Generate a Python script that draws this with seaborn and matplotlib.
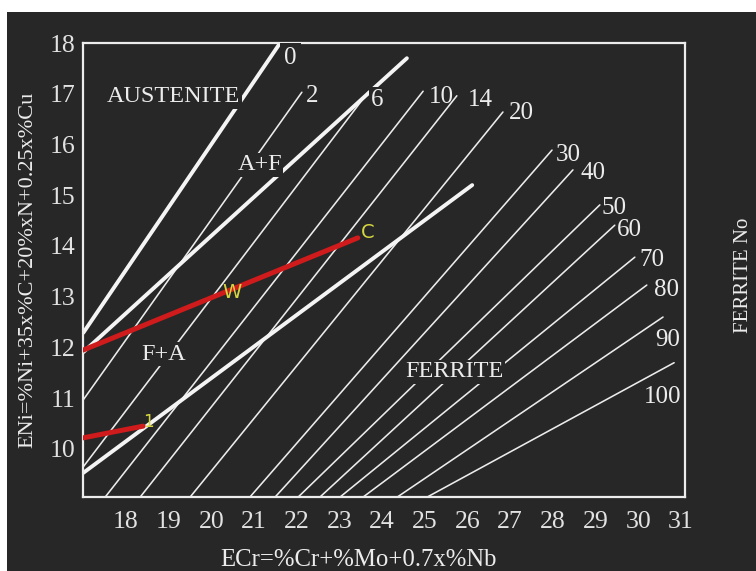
import numpy as np
import pandas as pd
import matplotlib
matplotlib.use("Agg")
import matplotlib.pyplot as plt
from matplotlib.patches import Rectangle
import seaborn as sns

# ---------------- data ----------------
# iso-ferrite lines (Ferrite Number), straight segments
ferrite_no = ["2", "6", "10", "14", "20", "30", "40", "50", "60", "70", "80", "90", "100"]
iso_ecr_bot = [17.00, 17.00, 17.51, 18.33, 19.50, 20.90, 21.49, 22.03, 22.54, 23.01, 23.55, 24.35, 25.05]
iso_eni_bot = [10.97, 9.65, 9.05, 9.05, 9.05, 9.05, 9.05, 9.05, 9.05, 9.05, 9.05, 9.05, 9.05]
iso_ecr_top = [22.12, 23.67, 24.96, 25.75, 26.83, 27.98, 28.47, 29.10, 29.45, 29.92, 30.20, 30.58, 30.84]
iso_eni_top = [17.03, 17.03, 17.05, 16.96, 16.64, 15.89, 15.50, 14.81, 14.41, 13.78, 13.23, 12.60, 11.70]

# phase boundaries (bold lines)
boundary = ["0", "A/A+F", "F+A/F"]
bnd_ecr_bot = [17.00, 17.00, 17.00]
bnd_eni_bot = [12.29, 11.91, 9.53]
bnd_ecr_top = [21.61, 24.58, 26.11]
bnd_eni_top = [18.00, 17.70, 15.20]

# red weld dilution lines
weld = ["W-C", "1"]
weld_ecr_start = [17.00, 17.00]
weld_eni_start = [11.95, 10.22]
weld_ecr_end = [23.43, 18.40]
weld_eni_end = [14.16, 10.45]

x_ticks = [18, 19, 20, 21, 22, 23, 24, 25, 26, 27, 28, 29, 30, 31]
y_ticks = [10, 11, 12, 13, 14, 15, 16, 17, 18]

x_label = "ECr=%Cr+%Mo+0.7x%Nb"
y_label = "ENi=%Ni+35x%C+20%xN+0.25x%Cu"
side_label = "FERRITE No"

# ---------------- layout / style ----------------
BG = "#272727"
FG = "#ececec"
RED = "#cf1b1b"
YEL = "#d6d640"
W, H = 756, 571

def seg_frame(names, x0, y0, x1, y1):
    rows = []
    for n, a, b, c, d in zip(names, x0, y0, x1, y1):
        rows.append({"line": n, "ECr": a, "ENi": b, "pt": 0})
        rows.append({"line": n, "ECr": c, "ENi": d, "pt": 1})
    return pd.DataFrame(rows)

df_iso = seg_frame(ferrite_no, iso_ecr_bot, iso_eni_bot, iso_ecr_top, iso_eni_top)
df_bnd = seg_frame(boundary, bnd_ecr_bot, bnd_eni_bot, bnd_ecr_top, bnd_eni_top)
df_weld = seg_frame(weld, weld_ecr_start, weld_eni_start, weld_ecr_end, weld_eni_end)

sns.set_theme(style="dark", rc={
    "axes.facecolor": BG, "figure.facecolor": "white",
    "axes.edgecolor": FG, "xtick.color": FG, "ytick.color": FG,
    "text.color": FG, "axes.labelcolor": FG,
})
plt.rcParams["font.family"] = ["Liberation Serif", "DejaVu Serif"]

fig = plt.figure(figsize=(W / 100, H / 100), dpi=100)
fig.patches.append(Rectangle((7 / W, 0), 1, 1 - 12 / H, transform=fig.transFigure,
                             facecolor=BG, edgecolor="none", zorder=-10))
ax = fig.add_axes([83.3 / W, 1 - 497 / H, (685 - 83.3) / W, (497 - 43) / H])
ax.set_zorder(1)
ax.set_facecolor(BG)

sns.lineplot(data=df_iso, x="ECr", y="ENi", units="line", estimator=None, sort=False,
             color=FG, lw=1.15, ax=ax, legend=False)
sns.lineplot(data=df_bnd, x="ECr", y="ENi", units="line", estimator=None, sort=False,
             color="#f4f4f4", lw=2.8, ax=ax, legend=False)
sns.lineplot(data=df_weld, x="ECr", y="ENi", units="line", estimator=None, sort=False,
             color=RED, lw=3.6, ax=ax, legend=False, zorder=4)

ax.set_xlim(17.0, 31.095)
ax.set_ylim(9.054, 18.0)
ax.set_xticks(x_ticks)
ax.set_yticks(y_ticks)
ax.set_xlabel("")
ax.set_ylabel("")
ax.tick_params(axis="both", direction="inout", length=8, width=1.5, colors=FG,
               labelsize=18.5, labelcolor="#e2e2e2")
ax.tick_params(axis="x", pad=6)
ax.tick_params(axis="y", pad=2)
for s in ax.spines.values():
    s.set_visible(True)
    s.set_color(FG)
    s.set_linewidth(1.6)
ax.grid(False)

# iso-ferrite number labels
num_labels = ["0"] + ferrite_no
num_pos = [(21.85, 17.70), (22.36, 16.96), (23.88, 16.88), (25.38, 16.94), (26.29, 16.88),
           (27.27, 16.62), (28.35, 15.79), (28.93, 15.44), (29.43, 14.75), (29.80, 14.32),
           (30.32, 13.72), (30.67, 13.13), (30.69, 12.15), (30.58, 11.02)]
for lab, (x, y) in zip(num_labels, num_pos):
    kw = {}
    if lab == "0":
        kw["bbox"] = dict(facecolor=BG, edgecolor="none", pad=3.0)
    elif lab == "6":
        kw["bbox"] = dict(facecolor=BG, edgecolor="none", pad=1.5)
    ax.text(x, y, lab, fontsize=18, ha="center", va="center", color=FG, zorder=6,
            clip_on=False, **kw)

# region labels (drawn over the lines, masking them)
regions = ["AUSTENITE", "A+F", "F+A", "FERRITE"]
region_pos = [(19.11, 16.94), (21.13, 15.60), (18.87, 11.87), (25.70, 11.52)]
for lab, (x, y) in zip(regions, region_pos):
    ax.text(x, y, lab, fontsize=17.5, ha="center", va="center", color=FG, zorder=6,
            bbox=dict(facecolor=BG, edgecolor="none", pad=1.0))

# weld point labels
ax.text(23.66, 14.26, "C", fontsize=14, color=YEL, ha="center", va="center",
        family="DejaVu Sans", zorder=7)
ax.text(20.49, 13.09, "W", fontsize=14, color=YEL, ha="center", va="center",
        family="DejaVu Sans", zorder=7)
ax.text(18.52, 10.53, "1", fontsize=12, color=YEL, ha="center", va="center",
        family="DejaVu Sans", zorder=7)

fig.text(359 / W, 1 - 560 / H, x_label, fontsize=17.8, ha="center", va="center", color=FG)
fig.text(28 / W, 1 - 270 / H, y_label, fontsize=16, ha="center", va="center",
         rotation=90, color=FG)
fig.text(744 / W, 1 - 275 / H, side_label, fontsize=15, ha="center", va="center",
         rotation=90, color=FG)

fig.savefig("out.png", dpi=100, facecolor="white")
